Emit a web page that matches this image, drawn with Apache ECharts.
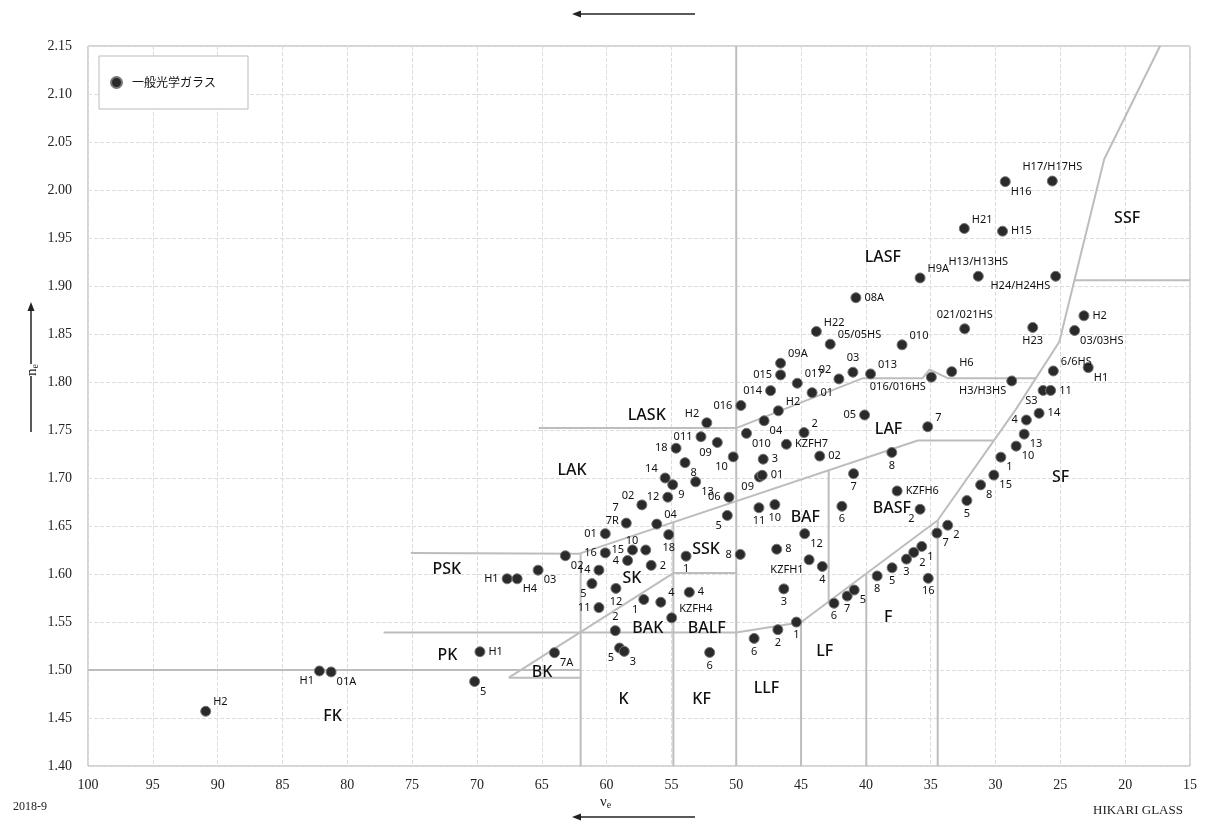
<!DOCTYPE html>
<html>
<head>
<meta charset="utf-8">
<title>HIKARI glass map</title>
<script src="https://cdn.jsdelivr.net/npm/echarts@6/dist/echarts.min.js"></script>
<style>
html, body { margin: 0; padding: 0; background: #fff; }
#main { width: 1218px; height: 825px; }
</style>
</head>
<body>
<div id="main"></div>
<script>
// glass types: name, abbe number (ve), refractive index (ne)
const glassNames = [
  "H2", "H1", "01A", "H1", "5", "7A", "H1", "H4", "03", "02",
  "16", "14", "5", "11", "12", "15", "10", "4", "2", "18",
  "04", "01", "7\n7R", "02", "12", "14", "9", "13", "8", "18",
  "011", "H2", "09", "10", "06", "5", "016", "014", "015", "09A",
  "017", "H2", "04", "010", "3", "09", "01", "11", "10", "2",
  "KZFH7", "02", "01", "02", "03", "013", "H22", "05/05HS", "08A", "010",
  "016/016HS", "H6", "05", "7", "8", "7", "6", "12", "8", "KZFH1",
  "4", "3", "KZFH6", "2", "1", "8", "1", "4", "2", "4",
  "KZFH4", "5", "3", "6", "6", "2", "1", "6", "7", "5",
  "8", "5", "3", "2", "1", "16", "7", "2", "5", "8",
  "15", "1", "10", "13", "4", "14", "S3", "11", "H3/H3HS", "6/6HS",
  "H1", "H2", "03/03HS", "H23", "021/021HS", "H9A", "H13/H13HS", "H24/H24HS", "H21", "H15",
  "H16", "H17/H17HS"
];
const glassVe = [
  90.92, 82.15, 81.25, 69.77, 70.18, 64.02, 67.67, 66.90, 65.28, 63.18,
  60.10, 60.59, 61.13, 60.59, 59.28, 58.00, 56.98, 58.38, 56.56, 55.21,
  56.13, 60.10, 58.48, 57.28, 55.28, 55.48, 54.90, 53.13, 53.95, 54.64,
  52.72, 52.27, 51.46, 50.23, 50.56, 50.69, 49.64, 47.35, 46.58, 46.58,
  45.29, 46.75, 47.85, 49.21, 47.92, 48.21, 48.00, 48.25, 47.02, 44.77,
  46.13, 43.56, 44.15, 42.08, 41.00, 39.64, 43.82, 42.75, 40.77, 37.21,
  34.95, 33.38, 40.10, 35.23, 38.00, 40.95, 41.85, 44.72, 46.88, 44.38,
  43.36, 46.33, 37.59, 35.82, 53.87, 49.69, 57.13, 55.82, 59.33, 53.62,
  54.98, 59.00, 58.64, 52.05, 48.62, 46.79, 45.36, 42.46, 41.44, 40.90,
  39.13, 37.98, 36.87, 36.31, 35.69, 35.19, 34.52, 33.69, 32.21, 31.15,
  30.13, 29.59, 28.41, 27.79, 27.62, 26.64, 26.33, 25.75, 28.75, 25.54,
  22.85, 23.18, 23.90, 27.13, 32.38, 35.82, 31.33, 25.36, 32.41, 29.46,
  29.25, 25.62
];
const glassNe = [
  1.457, 1.499, 1.498, 1.519, 1.488, 1.518, 1.595, 1.595, 1.604, 1.619,
  1.622, 1.604, 1.590, 1.565, 1.585, 1.625, 1.625, 1.614, 1.609, 1.641,
  1.652, 1.642, 1.653, 1.672, 1.680, 1.700, 1.693, 1.696, 1.716, 1.731,
  1.743, 1.7575, 1.737, 1.722, 1.680, 1.661, 1.7755, 1.791, 1.8074, 1.8196,
  1.7987, 1.770, 1.7596, 1.7465, 1.7196, 1.7011, 1.7029, 1.669, 1.6723, 1.7473,
  1.7351, 1.7228, 1.7889, 1.8032, 1.8102, 1.8084, 1.8526, 1.8394, 1.8878, 1.8387,
  1.805, 1.8108, 1.7656, 1.7534, 1.7266, 1.7045, 1.6705, 1.642, 1.6258, 1.6148,
  1.6078, 1.5845, 1.6865, 1.6674, 1.6186, 1.6204, 1.5734, 1.5706, 1.541, 1.581,
  1.5543, 1.5229, 1.5194, 1.5183, 1.5329, 1.542, 1.5499, 1.5695, 1.577, 1.5833,
  1.598, 1.6065, 1.6155, 1.6225, 1.6287, 1.5955, 1.6426, 1.6508, 1.6765, 1.6928,
  1.703, 1.7217, 1.7332, 1.7457, 1.7604, 1.7674, 1.7912, 1.7912, 1.8011, 1.8115,
  1.815, 1.869, 1.8536, 1.8568, 1.8554, 1.9084, 1.9101, 1.9101, 1.9599, 1.9571,
  2.0087, 2.0093
];

// glass family regions: name and where the name sits
const regionNames = ["FK", "PK", "BK", "PSK", "K", "KF", "LLF", "LF", "F", "BAK", "BALF",
  "SK", "SSK", "BAF", "BASF", "LAK", "LASK", "LAF", "LASF", "SF", "SSF"];
const regionVe = [81.13, 72.28, 64.98, 72.33, 58.69, 52.67, 47.67, 43.18, 38.27, 56.82, 52.28,
  58.05, 52.33, 44.67, 38.0, 62.67, 56.9, 38.25, 38.69, 24.98, 19.85];
const regionNe = [1.4512, 1.5149, 1.4974, 1.6047, 1.4697, 1.4697, 1.4807, 1.5194, 1.5549, 1.5428, 1.5428,
  1.595, 1.6253, 1.6594, 1.6681, 1.7074, 1.7656, 1.7506, 1.9296, 1.7011, 1.97];

// region borders (ve, ne)
const borders = [
  [[100, 1.50], [62, 1.50]],
  [[77.2, 1.539], [50, 1.539], [45, 1.5497], [34.46, 1.656], [28.46, 1.771], [25.08, 1.842], [21.62, 2.032], [17.31, 2.15]],
  [[75.1, 1.622], [62.15, 1.621], [36.0, 1.739], [30.13, 1.739]],
  [[67.54, 1.492], [62, 1.492]],
  [[67.54, 1.492], [54.85, 1.601], [50, 1.601]],
  [[62, 1.40], [62, 1.621]],
  [[54.85, 1.40], [54.85, 1.654]],
  [[50, 1.40], [50, 2.15]],
  [[45, 1.40], [45, 1.5497]],
  [[39.97, 1.40], [39.97, 1.600]],
  [[34.46, 1.40], [34.46, 1.656]],
  [[42.87, 1.571], [42.87, 1.708]],
  [[65.23, 1.752], [50, 1.752], [40.23, 1.804], [35.62, 1.804], [35.1, 1.813], [33.69, 1.804], [26.89, 1.804]],
  [[23.91, 1.906], [15, 1.906]]
];

// where each glass name goes relative to its dot
const labelSide = [
  "tr", "bl", "br", "r", "br", "br", "l", "br", "br", "br",
  "l", "l", "bl", "l", "b", "l", "tl", "l", "r", "b",
  "tr", "l", "tl", "tl", "l", "tl", "br", "br", "br", "l",
  "l", "tl", "bl", "bl", "l", "bl", "l", "l", "l", "tr",
  "tr", "tr", "br", "br", "r", "bl", "r", "b", "b", "tr",
  "r", "r", "r", "tl", "t", "tr", "tr", "tr", "r", "tr",
  "bl", "tr", "l", "tr", "b", "b", "b", "br", "r", "bl",
  "b", "b", "r", "bl", "b", "l", "bl", "tr", "t", "r",
  "tr", "bl", "br", "b", "b", "b", "b", "b", "b", "br",
  "b", "b", "b", "br", "br", "b", "br", "br", "b", "br",
  "br", "br", "br", "br", "l", "r", "bl", "r", "bl", "tr",
  "br", "r", "br", "b", "t", "tr", "t", "bl", "tr", "r",
  "br", "t"
];

function sideLabel(code) {
  switch (code) {
    case "r": return { position: "right", distance: 3 };
    case "l": return { position: "left", distance: 3 };
    case "t": return { position: "top", distance: 2 };
    case "b": return { position: "bottom", distance: 1 };
    case "tr": return { position: "right", distance: 2, offset: [0, -9] };
    case "tl": return { position: "left", distance: 2, offset: [0, -9] };
    case "br": return { position: "right", distance: 0, offset: [0, 10] };
    case "bl": return { position: "left", distance: 0, offset: [0, 10] };
  }
  return { position: "right" };
}

const glassData = glassNames.map(function (n, i) {
  return {
    name: n,
    value: [glassVe[i], glassNe[i]],
    label: sideLabel(labelSide[i])
  };
});

const regionData = regionNames.map(function (n, i) {
  return { name: n, value: [regionVe[i], regionNe[i]] };
});

const borderSeries = borders.map(function (b) {
  return {
    type: "line",
    data: b,
    symbol: "none",
    silent: true,
    z: 1,
    lineStyle: { color: "#bdbdbd", width: 2 }
  };
});

const chart = echarts.init(document.getElementById("main"));

const serif = "Liberation Serif, DejaVu Serif, serif";
const sans = "Noto Sans, DejaVu Sans, sans-serif";

chart.setOption({
  backgroundColor: "#fff",
  animation: false,
  grid: {
    left: 88, right: 28, top: 46, bottom: 59,
    show: true, borderColor: "#a8a8a8", borderWidth: 1
  },
  legend: {
    data: ["一般光学ガラス"],
    left: 99, top: 56,
    orient: "vertical",
    itemWidth: 11, itemHeight: 11,
    padding: [20, 32, 20, 11],
    backgroundColor: "#fff",
    borderColor: "#bbb", borderWidth: 1,
    textStyle: { fontFamily: "Noto Sans CJK JP", fontSize: 12, color: "#111", padding: [0, 0, 0, 5] }
  },
  xAxis: {
    type: "value",
    inverse: true,
    min: 15, max: 100, interval: 5,
    axisLine: { show: false },
    axisTick: { show: false },
    axisLabel: { fontFamily: serif, fontSize: 14, color: "#222", margin: 12 },
    splitLine: { show: true, lineStyle: { color: "#dcdcdc", type: "dashed", width: 1 } }
  },
  yAxis: {
    type: "value",
    min: 1.40, max: 2.15, interval: 0.05,
    axisLine: { show: false },
    axisTick: { show: false },
    axisLabel: {
      fontFamily: serif, fontSize: 14, color: "#222", margin: 16,
      formatter: function (v) { return v.toFixed(2); }
    },
    splitLine: { show: true, lineStyle: { color: "#dcdcdc", type: "dashed", width: 1 } }
  },
  series: borderSeries.concat([
    {
      name: "一般光学ガラス",
      type: "scatter",
      data: glassData,
      symbol: "circle",
      symbolSize: 10,
      z: 5,
      itemStyle: { color: "#2a2a2a", borderColor: "#777", borderWidth: 1, opacity: 1 },
      label: {
        show: true,
        formatter: "{b}",
        fontFamily: sans,
        fontSize: 11,
        color: "#111",
        opacity: 1,
        lineHeight: 13
      }
    },
    {
      type: "scatter",
      data: regionData,
      symbolSize: 0,
      silent: true,
      z: 4,
      itemStyle: { opacity: 1 },
      label: {
        show: true,
        position: "inside",
        formatter: "{b}",
        fontFamily: sans,
        fontSize: 16,
        fontWeight: 500,
        color: "#111",
        opacity: 1
      }
    }
  ]),
  graphic: [
    // top arrow
    { type: "line", shape: { x1: 695, y1: 14, x2: 578, y2: 14 }, style: { stroke: "#222", lineWidth: 1.5 } },
    { type: "polygon", shape: { points: [[572, 14], [581, 10.5], [581, 17.5]] }, style: { fill: "#222" } },
    // bottom arrow
    { type: "line", shape: { x1: 695, y1: 817, x2: 578, y2: 817 }, style: { stroke: "#222", lineWidth: 1.5 } },
    { type: "polygon", shape: { points: [[572, 817], [581, 813.5], [581, 820.5]] }, style: { fill: "#222" } },
    // left arrow
    { type: "line", shape: { x1: 31, y1: 432, x2: 31, y2: 308 }, style: { stroke: "#222", lineWidth: 1.5 } },
    { type: "polygon", shape: { points: [[31, 302], [27.5, 311], [34.5, 311]] }, style: { fill: "#222" } },
    {
      type: "text", x: 600, y: 794,
      style: {
        text: "{n|ν}{s|e}",
        rich: {
          n: { fontFamily: serif, fontSize: 15, fill: "#222" },
          s: { fontFamily: serif, fontSize: 10, fill: "#222", padding: [6, 0, 0, 0] }
        }
      }
    },
    {
      type: "text", x: 24, y: 376, rotation: Math.PI / 2,
      style: {
        text: "{n|n}{s|e}",
        backgroundColor: "#fff",
        rich: {
          n: { fontFamily: serif, fontSize: 15, fill: "#222" },
          s: { fontFamily: serif, fontSize: 10, fill: "#222", padding: [6, 0, 0, 0] }
        }
      }
    },
    { type: "text", x: 13, y: 801, style: { text: "2018-9", font: "12px Liberation Serif", fill: "#222" } },
    { type: "text", x: 1093, y: 804, style: { text: "HIKARI GLASS", font: "13px Liberation Serif", fill: "#222" } }
  ]
});
</script>
</body>
</html>
